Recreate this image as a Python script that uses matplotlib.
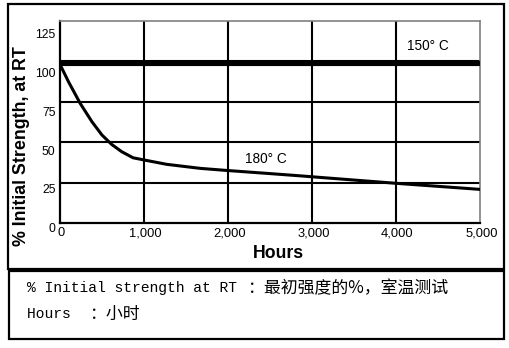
import matplotlib
matplotlib.use("Agg")
import matplotlib.pyplot as plt
from matplotlib.patches import Rectangle
from matplotlib.transforms import ScaledTranslation
import numpy as np

# ---- data ----
hours_150 = [0, 5000]
strength_150 = [106.7, 106.7]

hours_180 = [0, 100, 240, 380, 500, 615, 735, 870, 1010, 1270, 1670, 2000, 2460, 2860, 3000, 4000, 5000]
strength_180 = [106, 95, 81, 69.2, 60.6, 54.6, 49.9, 46.0, 44.5, 41.8, 39.2, 37.8, 36.0, 34.4, 33.8, 29.6, 25.7]

x_ticks = [0, 1000, 2000, 3000, 4000, 5000]
x_ticklabels = ["0", "1,000", "2,000", "3,000", "4,000", "5,000"]
y_ticks = [0, 25, 50, 75, 100, 125]
y_ticklabels = ["0", "25", "50", "75", "100", "125"]

label_150 = "150° C"
label_180 = "180° C"
xlabel = "Hours"
ylabel = "% Initial Strength, at RT"
note1_en = "% Initial strength at RT "
note1_cn = "：最初强度的%，室温测试"
note2_en = "Hours  "
note2_cn = "：小时"

# ---- figure ----
W, H = 510, 348
fig = plt.figure(figsize=(W / 100, H / 100), dpi=100)
ax = fig.add_axes([60 / W, 1 - 223.3 / H, 420 / W, 202.6 / H])

sans = "Liberation Sans"
ymin, ymax = 3.9, 134.1
ax.set_xlim(0, 5000)
ax.set_ylim(ymin, ymax)

# grid
for gx in x_ticks[1:-1]:
    ax.axvline(gx, color="black", lw=1.5, zorder=1)
for gy in np.linspace(ymin, ymax, 6)[1:-1]:
    ax.axhline(gy, color="black", lw=1.5, zorder=1)

ax.plot(hours_150, strength_150, color="black", lw=3.7, solid_capstyle="butt", zorder=3)
ax.plot(hours_180, strength_180, color="black", lw=2.2, zorder=3)

ax.text(4381, 118, label_150, fontsize=9.8, family=sans, ha="center", va="center")
ax.text(2452, 45, label_180, fontsize=9.8, family=sans, ha="center", va="center")

# axes styling
for s in ["left", "bottom"]:
    ax.spines[s].set_linewidth(1.6)
    ax.spines[s].set_color("black")
for s in ["top", "right"]:
    ax.spines[s].set_linewidth(1.2)
    ax.spines[s].set_color("#808080")

ax.set_xticks(x_ticks)
ax.set_xticklabels(x_ticklabels, fontsize=9.3, family=sans)
ax.tick_params(axis="x", length=0, pad=3)
shift = ScaledTranslation(1.5 / 100, 0, fig.dpi_scale_trans)
for lab in ax.get_xticklabels():
    lab.set_transform(lab.get_transform() + shift)
ax.set_yticks([])

ytrans = ax.get_yaxis_transform()
for v, lab in zip(y_ticks, y_ticklabels):
    ax.text(-4.5 / 420, v, lab, transform=ytrans, ha="right", va="center",
            fontsize=8.8, family=sans, clip_on=False)

ax.set_xlabel(xlabel, fontsize=12.7, fontweight="bold", family=sans)
ax.xaxis.set_label_coords((278 - 60) / 420, (223.3 - 254) / 202.6)
ax.xaxis.label.set_va("center")
ax.set_ylabel(ylabel, fontsize=12.8, fontweight="bold", family=sans)
ax.yaxis.set_label_coords((22 - 60) / 420, (223.3 - 146) / 202.6)
ax.yaxis.label.set_va("center")

# outer boxes
def box(x0, y0, x1, y1):
    fig.patches.append(Rectangle((x0 / W, 1 - y1 / H), (x1 - x0) / W, (y1 - y0) / H,
                                 transform=fig.transFigure, fill=False,
                                 edgecolor="black", lw=1.6))
box(8, 4, 504, 269)
box(9, 271, 504, 339)

mono = ["Liberation Mono", "Noto Sans CJK SC"]
cjk = ["Noto Sans CJK SC", "DejaVu Sans"]
fig.text(27 / W, 1 - 288 / H, note1_en, fontsize=10.56, family=mono, ha="left", va="center")
fig.text((27 + 25 * 8.8) / W, 1 - 288 / H, note1_cn, fontsize=12.2, family=cjk, ha="left", va="center")
fig.text(27 / W, 1 - 314 / H, note2_en, fontsize=10.56, family=mono, ha="left", va="center")
fig.text((27 + 7 * 8.8) / W, 1 - 314 / H, note2_cn, fontsize=12.2, family=cjk, ha="left", va="center")

fig.savefig("out.png", dpi=100)
